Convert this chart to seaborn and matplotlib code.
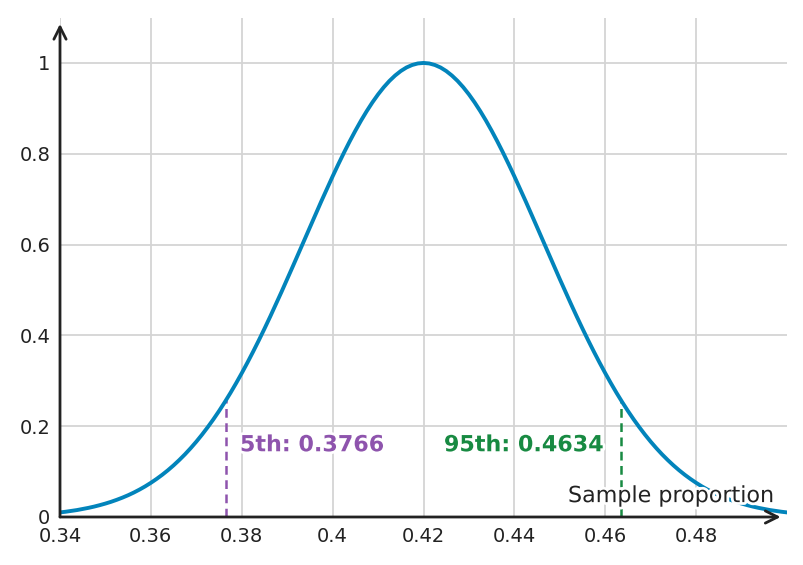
import numpy as np
import pandas as pd
import matplotlib
matplotlib.use("Agg")
import matplotlib.pyplot as plt
import matplotlib.patheffects as pe
import seaborn as sns

# Curve (x step 0.00125, peak at 0.42 scaled to 1)
x_vals = np.round(np.arange(0.34, 0.500001, 0.00125), 5)
y_vals = [
    0.0101, 0.0116, 0.0134, 0.0153, 0.0176, 0.0201, 0.0229, 0.0261,
    0.0296, 0.0335, 0.0379, 0.0427, 0.0480, 0.0539, 0.0604, 0.0675,
    0.0753, 0.0838, 0.0930, 0.1030, 0.1138, 0.1255, 0.1380, 0.1515,
    0.1659, 0.1813, 0.1977, 0.2150, 0.2334, 0.2528, 0.2731, 0.2945,
    0.3168, 0.3400, 0.3641, 0.3890, 0.4147, 0.4411, 0.4682, 0.4958,
    0.5238, 0.5522, 0.5808, 0.6095, 0.6382, 0.6668, 0.6951, 0.7229,
    0.7502, 0.7768, 0.8025, 0.8272, 0.8507, 0.8730, 0.8938, 0.9131,
    0.9307, 0.9465, 0.9604, 0.9723, 0.9822, 0.9900, 0.9955, 0.9989,
    1.0000,
    0.9989, 0.9955, 0.9900, 0.9822, 0.9723, 0.9604, 0.9465, 0.9307,
    0.9131, 0.8938, 0.8730, 0.8507, 0.8272, 0.8025, 0.7768, 0.7502,
    0.7229, 0.6951, 0.6668, 0.6382, 0.6095, 0.5808, 0.5522, 0.5238,
    0.4958, 0.4682, 0.4411, 0.4147, 0.3890, 0.3641, 0.3400, 0.3168,
    0.2945, 0.2731, 0.2528, 0.2334, 0.2150, 0.1977, 0.1813, 0.1659,
    0.1515, 0.1380, 0.1255, 0.1138, 0.1030, 0.0930, 0.0838, 0.0753,
    0.0675, 0.0604, 0.0539, 0.0480, 0.0427, 0.0379, 0.0335, 0.0296,
    0.0261, 0.0229, 0.0201, 0.0176, 0.0153, 0.0134, 0.0116, 0.0101,
]

p5 = 0.3766
p95 = 0.4634
p_height = 0.258

x_ticks = [0.34, 0.36, 0.38, 0.40, 0.42, 0.44, 0.46, 0.48]
x_labels = ["0.34", "0.36", "0.38", "0.4", "0.42", "0.44", "0.46", "0.48"]
y_ticks = [0, 0.2, 0.4, 0.6, 0.8, 1.0]
y_labels = ["0", "0.2", "0.4", "0.6", "0.8", "1"]

blue = "#0284bb"
purple = "#8e54ad"
green = "#188a42"
text_col = "#222222"

sns.set_style("white")
plt.rcParams["font.family"] = ["DejaVu Sans"]

df = pd.DataFrame({"x": x_vals, "y": y_vals})

fig = plt.figure(figsize=(8.04, 5.65), dpi=100)
ax = fig.add_axes([60 / 804, 1 - 517 / 565, 727 / 804, 499 / 565])

ax.set_xlim(0.34, 0.50)
ax.set_ylim(0, 1.099)

# grid
for xt in x_ticks:
    ax.axvline(xt, color="#d4d4d4", lw=1.3, zorder=0)
for yt in y_ticks[1:]:
    ax.axhline(yt, color="#d4d4d4", lw=1.3, zorder=0)

sns.lineplot(data=df, x="x", y="y", ax=ax, color=blue, lw=2.8, zorder=3)

# percentile markers
ax.plot([p5, p5], [0, p_height], color=purple, lw=1.8, ls=(0, (3.5, 2.2)), zorder=2)
ax.plot([p95, p95], [0, p_height], color=green, lw=1.8, ls=(0, (3.5, 2.2)), zorder=2)

halo = [pe.withStroke(linewidth=4, foreground="white")]
ax.text(0.3796, 0.158, f"5th: {p5:.4f}", color=purple, fontsize=16,
        fontweight="bold", ha="left", va="center", path_effects=halo, zorder=4)
ax.text(0.4596, 0.158, f"95th: {p95:.4f}", color=green, fontsize=16,
        fontweight="bold", ha="right", va="center", path_effects=halo, zorder=4)
ax.text(0.4973, 0.046, "Sample proportion", color=text_col, fontsize=16,
        ha="right", va="center", path_effects=halo, zorder=4)

# axes with arrow heads
for s in ax.spines.values():
    s.set_visible(False)
ax.annotate("", xy=(0.4986, 0), xytext=(0.34, 0),
            arrowprops=dict(arrowstyle="->", color=text_col, lw=2,
                            mutation_scale=22, shrinkA=0, shrinkB=0),
            zorder=5, annotation_clip=False)
ax.annotate("", xy=(0.34, 1.086), xytext=(0.34, 0),
            arrowprops=dict(arrowstyle="->", color=text_col, lw=2,
                            mutation_scale=22, shrinkA=0, shrinkB=0),
            zorder=5, annotation_clip=False)

ax.set_xticks(x_ticks)
ax.set_xticklabels(x_labels)
ax.set_yticks(y_ticks)
ax.set_yticklabels(y_labels)
ax.tick_params(direction="in", length=4, width=2, color=text_col,
               labelcolor=text_col, labelsize=14, pad=7)
ax.set_xlabel("")
ax.set_ylabel("")

fig.savefig("out.png", dpi=100)
